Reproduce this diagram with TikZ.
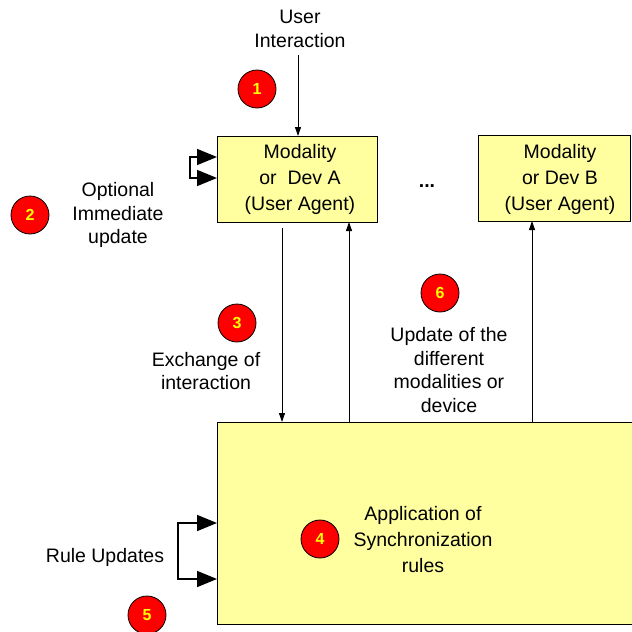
\documentclass[tikz,border=0pt]{standalone}
\usepackage{fontspec}
\setmainfont{Liberation Sans}
\usetikzlibrary{arrows.meta}
\definecolor{boxfill}{RGB}{255,255,160}
\definecolor{numred}{RGB}{255,0,0}
\definecolor{numyel}{RGB}{255,255,0}
\begin{document}
\begin{tikzpicture}[x=1pt,y=-1pt,
  modbox/.style={draw=black,line width=1pt,fill=boxfill},
  lbl/.style={align=center,inner sep=0pt,font=\fontsize{19.5}{23.5}\selectfont},
  boxlbl/.style={align=center,inner sep=0pt,font=\fontsize{19.5}{26}\selectfont},
  num/.style={circle,draw=black,line width=0.8pt,fill=numred,minimum size=38pt,inner sep=0pt,
    text=numyel,font=\fontsize{16}{16}\selectfont\bfseries},
  thin arrow/.style={draw=black,line width=0.9pt,-{Triangle[length=9pt,width=6pt]}},
  loop arrow/.style={draw=black,line width=1.6pt,-{Triangle[length=20pt,width=16pt]}}
]
\useasboundingbox (0,0) rectangle (632,632);
\begin{scope}
\clip (0,0) rectangle (632,632);
% boxes
\draw[modbox] (217,136) rectangle (377,222);
\coordinate (Atop) at (298,136);
\draw[modbox] (478,135) rectangle (630,221);
\draw[modbox] (217,422) rectangle (645,624);
\end{scope}
% box texts
\node[boxlbl] (atext) at (300,179) {Modality\\or~ Dev A\\(User Agent)};
\node[boxlbl] (btext) at (560,179) {Modality\\or Dev B\\(User Agent)};
\node[boxlbl] (ctext) at (423,540) {Application of\\Synchronization\\rules};
\node[font=\fontsize{19.5}{23.5}\selectfont\bfseries,inner sep=0pt] (dots) at (427,186) {...};
% labels
\node[lbl] (ui) at (300,29) {User\\Interaction};
\node[lbl] (opt) at (118,215) {Optional\\Immediate\\update};
\node[lbl] (exch) at (206,371) {Exchange of\\interaction};
\node[lbl] (upd) at (449,370) {Update of the\\different\\modalities or\\device};
\node[lbl] (rule) at (105,557) {Rule Updates};
% numbers
\node[num] (n1) at (257,89) {1};
\node[num] (n2) at (30,215) {2};
\node[num] (n3) at (237,323) {3};
\node[num] (n4) at (320,539) {4};
\node[num] (n5) at (147,615) {5};
\node[num] (n6) at (440,293) {6};
% connectors
\coordinate (uiS) at (298,55);
\coordinate (uiE) at (298,136);
\draw[thin arrow] (uiS) -- (uiE);
\coordinate (dA) at (282,228);
\coordinate (dC) at (282,422);
\draw[thin arrow] (dA) -- (dC);
\coordinate (uC) at (349,422);
\coordinate (uA) at (349,222);
\draw[thin arrow] (uC) -- (uA);
\coordinate (uCB) at (532,422);
\coordinate (uB) at (532,221);
\draw[thin arrow] (uCB) -- (uB);
% self loops
\coordinate (la1) at (217,157);
\coordinate (la2) at (217,178);
\draw[loop arrow] (198,157) -- (190,157) -- (190,178) -- (la2);
\draw[loop arrow] (190,157) -- (la1);
\coordinate (lc1) at (217,523);
\coordinate (lc2) at (217,579);
\draw[loop arrow] (198,523) -- (178,523) -- (178,579) -- (lc2);
\draw[loop arrow] (178,523) -- (lc1);
\end{tikzpicture}
\end{document}
